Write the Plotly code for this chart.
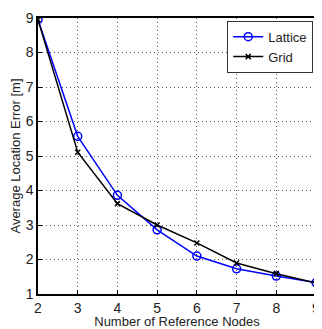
import plotly.graph_objects as go

nodes = [2, 3, 4, 5, 6, 7, 8, 9]
lattice = [8.95, 5.57, 3.86, 2.86, 2.10, 1.73, 1.52, 1.33]
grid = [8.95, 5.11, 3.62, 3.00, 2.48, 1.90, 1.59, 1.32]

fig = go.Figure()
fig.add_trace(go.Scatter(x=nodes, y=lattice, name="Lattice", mode="lines+markers",
                         line=dict(color="#0000ff", width=1.5),
                         marker=dict(symbol="circle-open", size=8, color="#0000ff", line=dict(width=1.5))))
fig.add_trace(go.Scatter(x=nodes, y=grid, name="Grid", mode="lines+markers",
                         line=dict(color="black", width=1.5),
                         marker=dict(symbol="x-thin-open", size=5, color="black", line=dict(width=1.5, color="black"))))

axis_common = dict(showgrid=True, gridcolor="#555555", griddash="1px,3px", gridwidth=1,
                   zeroline=False, ticks="inside", ticklen=4, tickcolor="black",
                   showline=True, linecolor="black", linewidth=1.5, mirror=True,
                   ticklabeloverflow="allow",
                   tickfont=dict(family="Liberation Sans, Arial", size=14, color="#222222"),
                   title_font=dict(family="Liberation Sans, Arial", size=13, color="#222222"))

# page body has an 8px margin, so the figure is shrunk by 8px and margins reduced
fig.update_layout(
    width=314, height=321,
    margin=dict(l=30, r=2, t=5, b=34),
    paper_bgcolor="white", plot_bgcolor="white",
    xaxis=dict(range=[2, 9], dtick=1, title=dict(text="Number of Reference Nodes", standoff=2), **axis_common),
    yaxis=dict(range=[1, 9], dtick=1, title=dict(text="Average Location Error [m]", standoff=4), **axis_common),
    legend=dict(x=0.99, y=0.99, xanchor="right", yanchor="top", bgcolor="white",
                bordercolor="#333333", borderwidth=1,
                font=dict(family="Liberation Sans, Arial", size=13, color="#222222"),
                tracegroupgap=0, itemwidth=30),
    showlegend=True,
)
fig.write_html("out.html")
